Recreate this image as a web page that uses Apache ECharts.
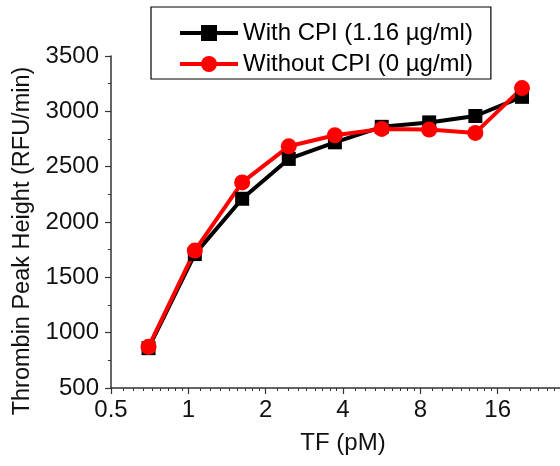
<!DOCTYPE html>
<html>
<head>
<meta charset="utf-8">
<script src="https://cdn.jsdelivr.net/npm/echarts@6/dist/echarts.min.js"></script>
<style>
  html, body { margin: 0; padding: 0; background: #fff; }
  #root { width: 560px; height: 466px; }
</style>
</head>
<body>
<div id="root"></div>
<script>
// TF concentration (pM)
const tfValues = [0.7, 1.06, 1.62, 2.46, 3.72, 5.66, 8.66, 13.1, 19.9]
const withCpi = [860, 1710, 2210, 2570, 2720, 2860, 2900, 2958, 3131]
const withoutCpi = [872, 1742, 2358, 2684, 2784, 2841, 2835, 2805, 3210]
const xTickLabels = ['0.5', '1', '2', '4', '8', '16']

const font = 'Liberation Sans, Arial, sans-serif'
const chart = echarts.init(document.getElementById('root'))

const pairs = (ys) => tfValues.map((x, i) => [x, ys[i]])

const option = {
  animation: false,
  backgroundColor: '#fff',
  grid: { left: 111, top: 56, bottom: 78, right: -15, containLabel: false, outerBoundsMode: 'none' },
  legend: {
    orient: 'vertical',
    left: 151,
    top: 7,
    borderColor: '#000',
    borderWidth: 1.2,
    padding: [14, 18, 3, 27],
    itemWidth: 58,
    itemHeight: 20,
    itemGap: 7,
    lineStyle: { width: 4 },
    textStyle: { fontFamily: font, fontSize: 24, color: '#000' },
    data: [
      { name: 'With CPI (1.16 µg/ml)', lineStyle: { width: 4 } },
      { name: 'Without CPI (0 µg/ml)', lineStyle: { width: 4 } }
    ]
  },
  xAxis: {
    type: 'log',
    logBase: 2,
    min: 0.5,
    max: 32,
    name: 'TF (pM)',
    nameLocation: 'middle',
    nameGap: 43,
    nameTextStyle: { fontFamily: font, fontSize: 24, color: '#111' },
    axisLine: { lineStyle: { color: '#333', width: 1.5 } },
    axisTick: { inside: false, length: 6, lineStyle: { color: '#333', width: 1.2 } },
    minorTick: { show: true, splitNumber: 9, length: 3, lineStyle: { color: '#333', width: 1 } },
    splitLine: { show: false },
    axisLabel: {
      fontFamily: font, fontSize: 24, color: '#111', margin: 10,
      showMaxLabel: false,
      formatter: (v) => {
        const s = String(+v.toPrecision(3))
        return xTickLabels.includes(s) ? s : ''
      }
    }
  },
  yAxis: {
    type: 'value',
    min: 500,
    max: 3500,
    interval: 500,
    name: 'Thrombin Peak Height (RFU/min)',
    nameLocation: 'middle',
    nameGap: 76,
    nameTextStyle: { fontFamily: font, fontSize: 23.5, color: '#111', padding: [0, 38, 0, 0] },
    axisLine: { show: true, lineStyle: { color: '#333', width: 1.5 } },
    axisTick: { show: true, inside: false, length: 6, lineStyle: { color: '#333', width: 1.2 } },
    minorTick: { show: true, splitNumber: 2, length: 3, lineStyle: { color: '#333', width: 1 } },
    splitLine: { show: false },
    axisLabel: { fontFamily: font, fontSize: 24, color: '#111', margin: 12, formatter: (v) => String(v) }
  },
  series: [
    {
      name: 'With CPI (1.16 µg/ml)',
      type: 'line',
      data: pairs(withCpi),
      symbol: 'rect',
      symbolSize: 14,
      color: '#000',
      lineStyle: { color: '#000', width: 4 },
      itemStyle: { color: '#000' }
    },
    {
      name: 'Without CPI (0 µg/ml)',
      type: 'line',
      data: pairs(withoutCpi),
      symbol: 'circle',
      symbolSize: 16,
      color: '#ff0000',
      lineStyle: { color: '#ff0000', width: 4 },
      itemStyle: { color: '#ff0000' }
    }
  ]
}

chart.setOption(option)
</script>
</body>
</html>
